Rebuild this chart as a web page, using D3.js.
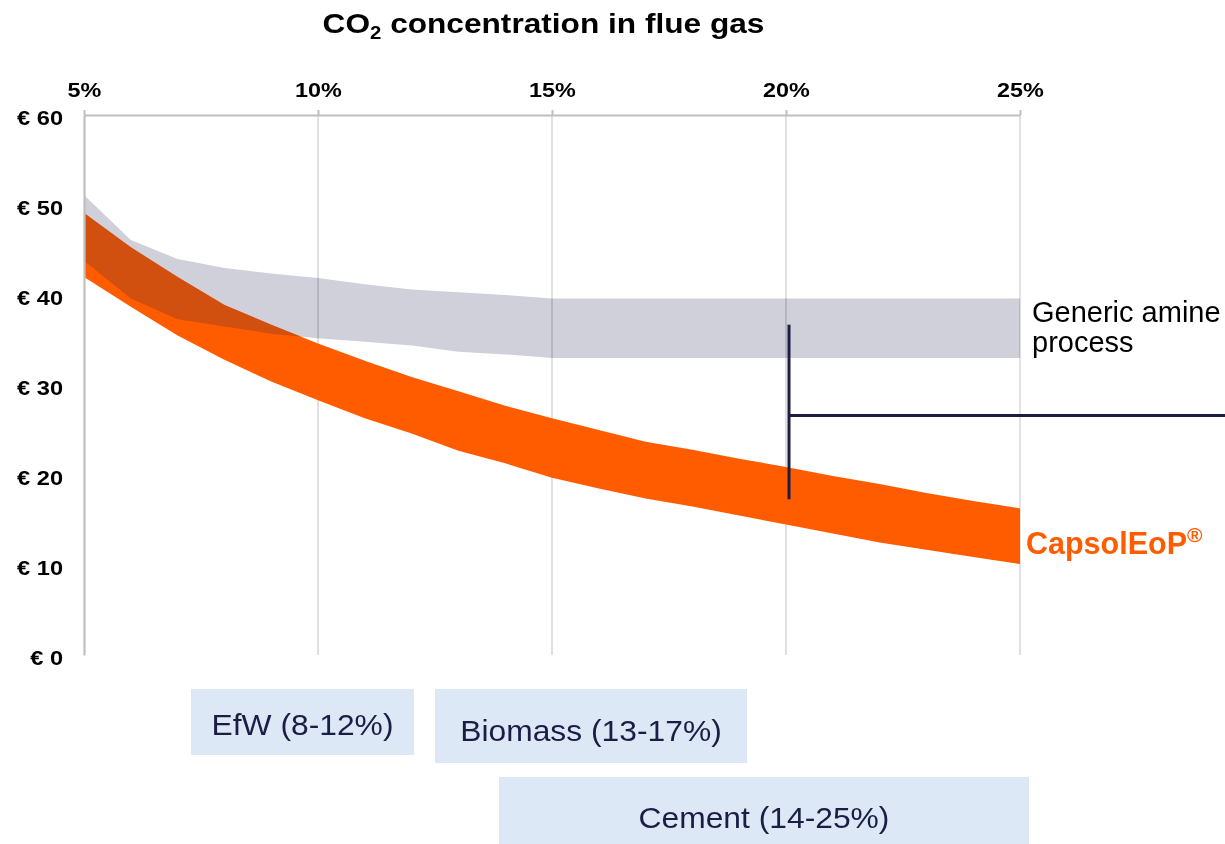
<!DOCTYPE html>
<html>
<head>
<meta charset="utf-8">
<script src="https://cdn.jsdelivr.net/npm/d3@7"></script>
<style>
  html, body { margin: 0; padding: 0; background: #fff; }
  svg { display: block; font-family: "Liberation Sans", Arial, sans-serif; }
</style>
</head>
<body>
<svg id="chart" width="1225" height="844"></svg>
<script>
// ---------- data ----------
const co2Levels = [5, 6, 7, 8, 9, 10, 11, 12, 13, 14, 15, 16, 17, 18, 19, 20, 21, 22, 23, 24, 25];
const amineHigh = [51.1, 46.1, 44.0, 43.0, 42.4, 41.9, 41.2, 40.6, 40.3, 40.0, 39.6, 39.6, 39.6, 39.6, 39.6, 39.6, 39.6, 39.6, 39.6, 39.6, 39.6];
const amineLow  = [43.8, 39.6, 37.3, 36.5, 35.7, 35.2, 34.8, 34.4, 33.7, 33.4, 33.0, 33.0, 33.0, 33.0, 33.0, 33.0, 33.0, 33.0, 33.0, 33.0, 33.0];
const capsolHigh = [49.1, 45.3, 42.0, 38.9, 36.7, 34.6, 32.7, 30.9, 29.3, 27.7, 26.3, 25.0, 23.7, 22.8, 21.8, 20.9, 19.9, 19.0, 18.0, 17.1, 16.3];
const capsolLow  = [42.0, 38.7, 35.5, 32.8, 30.4, 28.3, 26.3, 24.6, 22.7, 21.3, 19.7, 18.5, 17.4, 16.5, 15.5, 14.5, 13.5, 12.5, 11.7, 10.9, 10.1];
const xTicks = [5, 10, 15, 20, 25];
const xTickLabels = ["5%", "10%", "15%", "20%", "25%"];
const yTicks = [0, 10, 20, 30, 40, 50, 60];
const yTickLabels = ["€ 0", "€ 10", "€ 20", "€ 30", "€ 40", "€ 50", "€ 60"];
const titleMain = "CO";
const titleSub = "2";
const titleRest = " concentration in flue gas";
const amineLabel = ["Generic amine", "process"];
const capsolLabel = "CapsolEoP";
const sectorLabels = ["EfW (8-12%)", "Biomass (13-17%)", "Cement (14-25%)"];
// bracket annotation (chart units)
const bracketX = 20;
const bracketTop = 36.7;
const bracketBottom = 17.3;
const bracketArm = 26.6;

// ---------- layout ----------
const svg = d3.select("#chart");
const plotL = 84, plotR = 1020, plotT = 115, plotB = 655;
const x = d3.scaleLinear().domain([5, 25]).range([plotL, plotR]);
const y = d3.scaleLinear().domain([0, 60]).range([plotB, plotT]);

const axisColor = "#bfbfbf";
const gridColor = "#d9d9d9";
const grayBand = "#cfd0d9";
const orange = "#ff5c00";
const overlapOrange = "#d1500f";
const navy = "#1b1d45";
const boxFill = "#dde8f7";
const stretchTick = 1.17;

const amineData = co2Levels.map((c, i) => ({ c, lo: amineLow[i], hi: amineHigh[i] }));
const capsolData = co2Levels.map((c, i) => ({ c, lo: capsolLow[i], hi: capsolHigh[i] }));
const area = d3.area().x(d => x(d.c)).y0(d => y(d.lo)).y1(d => y(d.hi));

// gridlines
svg.append("g").selectAll("line")
  .data(xTicks.filter(t => t !== 5))
  .join("line")
  .attr("x1", d => x(d)).attr("x2", d => x(d))
  .attr("y1", plotT).attr("y2", plotB)
  .attr("stroke", gridColor).attr("stroke-width", 1.6);

// gray band (multiply so gridlines show through darker)
svg.append("path").datum(amineData)
  .attr("d", area)
  .attr("fill", grayBand)
  .style("mix-blend-mode", "multiply");

// orange band
svg.append("path").datum(capsolData)
  .attr("d", area)
  .attr("fill", orange);

// overlap
svg.append("clipPath").attr("id", "amineClip")
  .append("path").datum(amineData).attr("d", area);
svg.append("path").datum(capsolData)
  .attr("d", area)
  .attr("fill", overlapOrange)
  .attr("clip-path", "url(#amineClip)");

// top axis
const xAxis = svg.append("g")
  .attr("transform", `translate(0,${plotT})`)
  .call(d3.axisTop(x).tickValues(xTicks).tickSize(5).tickSizeOuter(0).tickPadding(13)
    .tickFormat((d, i) => xTickLabels[i]));
xAxis.select(".domain").attr("stroke", axisColor).attr("stroke-width", 2.2);
xAxis.selectAll(".tick line").attr("stroke", axisColor).attr("stroke-width", 2);
xAxis.selectAll(".tick text")
  .attr("fill", "#000").attr("font-size", 20).attr("font-weight", "bold")
  .attr("font-family", "Liberation Sans, Arial, sans-serif")
  .attr("transform", `scale(${stretchTick},1)`);

// left axis
const yAxis = svg.append("g")
  .attr("transform", `translate(${plotL},0)`)
  .call(d3.axisLeft(y).tickValues(yTicks).tickSize(0).tickSizeOuter(0).tickPadding(0)
    .tickFormat((d, i) => yTickLabels[i]));
yAxis.select(".domain").attr("stroke", axisColor).attr("stroke-width", 2.2);
yAxis.selectAll(".tick text")
  .attr("fill", "#000").attr("font-size", 20).attr("font-weight", "bold")
  .attr("font-family", "Liberation Sans, Arial, sans-serif")
  .attr("x", -21 / 1.18).attr("dy", "0.45em")
  .attr("transform", "scale(1.18,1)");

// title
const title = svg.append("text")
  .attr("transform", "translate(543.5,33) scale(1.13,1)")
  .attr("text-anchor", "middle")
  .attr("font-size", 28).attr("font-weight", "bold").attr("fill", "#000");
title.append("tspan").text(titleMain);
title.append("tspan").attr("font-size", 18).attr("dy", 6).text(titleSub);
title.append("tspan").attr("dy", -6).text(titleRest);

// bracket annotation
const bx = x(bracketX) + 3;
svg.append("line")
  .attr("x1", bx).attr("x2", bx)
  .attr("y1", y(bracketTop)).attr("y2", y(bracketBottom))
  .attr("stroke", navy).attr("stroke-width", 3);
svg.append("line")
  .attr("x1", bx).attr("x2", 1225)
  .attr("y1", y(bracketArm)).attr("y2", y(bracketArm))
  .attr("stroke", navy).attr("stroke-width", 3);

// series labels
svg.append("g").selectAll("text")
  .data(amineLabel)
  .join("text")
  .attr("x", 1032)
  .attr("y", (d, i) => 322 + i * 30)
  .attr("font-size", 29).attr("fill", "#000")
  .text(d => d);

const cap = svg.append("text")
  .attr("x", 1026).attr("y", 554)
  .attr("font-size", 30.5).attr("font-weight", "bold").attr("fill", orange);
cap.append("tspan").text(capsolLabel);
cap.append("tspan").attr("font-size", 21).attr("dy", -12).text("®");

// sector boxes
const boxes = [
  { x0: 191, x1: 414, y0: 689, y1: 755, ty: 735 },
  { x0: 435, x1: 747, y0: 689, y1: 763, ty: 741 },
  { x0: 499, x1: 1029, y0: 777, y1: 844, ty: 828 }
];
const bg = svg.append("g").selectAll("g")
  .data(sectorLabels)
  .join("g");
bg.append("rect")
  .attr("x", (d, i) => boxes[i].x0)
  .attr("y", (d, i) => boxes[i].y0)
  .attr("width", (d, i) => boxes[i].x1 - boxes[i].x0)
  .attr("height", (d, i) => boxes[i].y1 - boxes[i].y0)
  .attr("fill", boxFill);
bg.append("text")
  .attr("transform", (d, i) => `translate(${(boxes[i].x0 + boxes[i].x1) / 2},${boxes[i].ty}) scale(1.06,1)`)
  .attr("text-anchor", "middle")
  .attr("font-size", 30).attr("fill", navy)
  .text(d => d);
</script>
</body>
</html>
